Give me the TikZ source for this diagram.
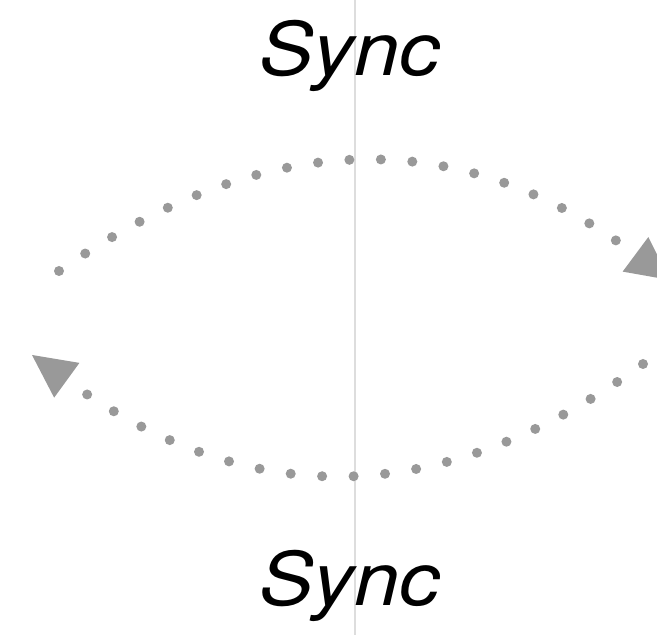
\documentclass[tikz,border=0pt]{standalone}
\usepackage{fontspec}
\setmainfont{TeX Gyre Heros}[ItalicFeatures={FakeStretch=1.1}]
\usetikzlibrary{arrows.meta}
\definecolor{dotgray}{HTML}{999999}
\definecolor{axisgray}{HTML}{DDDDDD}
\begin{document}
\begin{tikzpicture}[x=1pt,y=1pt,
  dotline/.style={draw=dotgray, line width=10pt, line cap=round,
    dash pattern=on 0pt off 31.5pt,
    -{Triangle[length=43pt,width=43pt,line width=0pt,fill=dotgray]}},
  synclabel/.style={anchor=base, inner sep=0pt, font=\fontsize{74}{80}\selectfont\itshape}]
\useasboundingbox (0,0) rectangle (657,635);
\clip (0,0) rectangle (657,635);
\fill[white] (0,0) rectangle (657,635);
\coordinate (axtop) at (355,635);
\coordinate (axbot) at (355,0);
\draw[axisgray, line width=2pt] (axtop) -- (axbot);
\node[synclabel] (top) at (350,559) {Sync};
\node[synclabel] (bot) at (350,29) {Sync};
\coordinate (a1) at (59,364);
\coordinate (a2) at (670,355);
\coordinate (b1) at (643,271);
\coordinate (b2) at (32,280);
\draw[dotline] (a1) to[out=34.7,in=143.4,looseness=1.08] (a2);
\draw[dotline] (b1) to[out=216,in=-36,looseness=1.08] (b2);
\end{tikzpicture}
\end{document}
